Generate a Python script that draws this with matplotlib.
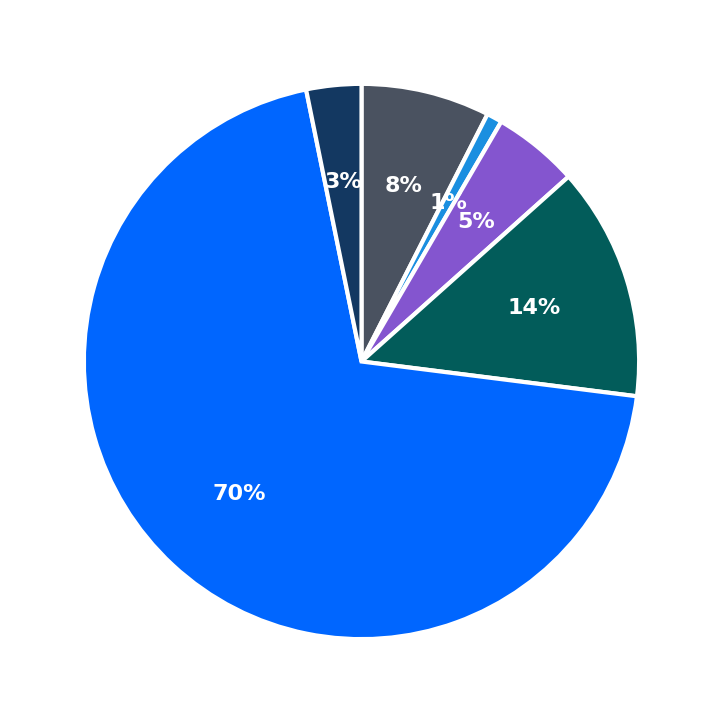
import matplotlib
matplotlib.use("Agg")
import matplotlib.pyplot as plt

# slice shares in percent, clockwise from 12 o'clock
shares = [7.5, 0.9, 5.0, 13.6, 69.8, 3.2]
colors = ["#4a5260", "#1a8fe0", "#8455cf", "#025c5a", "#0066ff", "#133861"]

fig = plt.figure(figsize=(7.23, 7.23), dpi=100)
ax = fig.add_axes([0.02, 0.02, 0.96, 0.96])

wedges, texts, autotexts = ax.pie(
    shares,
    colors=colors,
    startangle=90,
    counterclock=False,
    autopct="%1.0f%%",
    pctdistance=0.65,
    wedgeprops=dict(edgecolor="white", linewidth=3),
    textprops=dict(color="white", fontsize=16, fontweight="bold"),
)
ax.set_aspect("equal")

fig.savefig("out.png", dpi=100)
